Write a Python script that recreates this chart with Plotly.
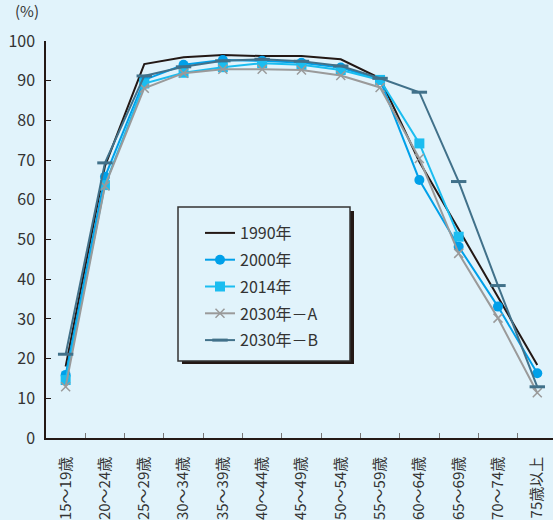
import plotly.graph_objects as go

# Age groups (x-axis categories)
ages = ["15～19歳", "20～24歳", "25～29歳", "30～34歳", "35～39歳", "40～44歳",
        "45～49歳", "50～54歳", "55～59歳", "60～64歳", "65～69歳", "70～74歳", "75歳以上"]

# Labour force participation rate (%) by age group
rate_1990 = [18.0, 68.5, 94.2, 95.9, 96.5, 96.2, 96.2, 95.4, 90.6, 69.6, 52.6, 35.6, 18.4]
rate_2000 = [15.9, 65.8, 90.2, 94.0, 95.2, 95.0, 94.5, 93.3, 90.2, 65.0, 48.2, 33.1, 16.3]
rate_2014 = [14.6, 63.7, 89.3, 92.0, 93.4, 94.4, 94.0, 92.7, 90.2, 74.2, 50.7, None, None]
rate_2030a = [12.9, 63.5, 88.1, 91.9, 92.9, 92.9, 92.7, 91.3, 88.3, 70.4, 46.5, 30.2, 11.4]
rate_2030b = [21.1, 69.3, 91.2, 93.5, 95.0, 95.4, 94.9, 93.7, 90.6, 87.1, 64.6, 38.4, 12.9]

y_ticks = [0, 10, 20, 30, 40, 50, 60, 70, 80, 90, 100]

FONT = "Noto Sans CJK JP"
BG = "#E1F3FB"

# plot-area geometry in pixels, used to place the legend frame
L, T, W, H = 46, 41, 507, 397


def px_x(px):
    return (px - L) / W


def px_y(py):
    return (T + H - py) / H


fig = go.Figure()

fig.add_trace(go.Scatter(
    x=ages, y=rate_1990, name="1990年", mode="lines",
    line=dict(color="#231815", width=2)))
fig.add_trace(go.Scatter(
    x=ages, y=rate_2000, name="2000年", mode="lines+markers",
    line=dict(color="#00A0E9", width=2),
    marker=dict(symbol="circle", size=10, color="#00A0E9")))
fig.add_trace(go.Scatter(
    x=ages, y=rate_2014, name="2014年", mode="lines+markers",
    line=dict(color="#1BBDF0", width=2),
    marker=dict(symbol="square", size=10, color="#1BBDF0")))
fig.add_trace(go.Scatter(
    x=ages, y=rate_2030a, name="2030年－A", mode="lines+markers",
    line=dict(color="#9A9A9A", width=2),
    marker=dict(symbol="x-thin", size=9, line=dict(color="#9A9A9A", width=1.5))))
fig.add_trace(go.Scatter(
    x=ages, y=rate_2030b, name="2030年－B", mode="lines+markers",
    line=dict(color="#41718A", width=2),
    marker=dict(symbol="line-ew", size=11, line=dict(color="#41718A", width=3))))

# legend frame: drop shadow, then the bordered box on top of it
fig.add_shape(type="rect", xref="paper", yref="paper",
              x0=px_x(182), x1=px_x(354), y0=px_y(364), y1=px_y(211),
              fillcolor="#231815", line=dict(width=0), layer="above")
fig.add_shape(type="rect", xref="paper", yref="paper",
              x0=px_x(178), x1=px_x(350), y0=px_y(361), y1=px_y(207),
              fillcolor=BG, line=dict(color="#333333", width=1.5), layer="above")

fig.add_annotation(text="(%)", xref="paper", yref="paper",
                   x=-0.01, y=1.045, xanchor="right", yanchor="bottom",
                   showarrow=False, font=dict(family=FONT, size=15, color="#333333"))

fig.update_layout(
    width=553, height=520,
    margin=dict(l=L, r=0, t=T, b=520 - T - H, autoexpand=False),
    paper_bgcolor=BG, plot_bgcolor=BG,
    font=dict(family=FONT, color="#333333"),
    showlegend=True,
    legend=dict(
        x=px_x(200), y=px_y(216), xanchor="left", yanchor="top",
        bgcolor="rgba(0,0,0,0)", borderwidth=0,
        font=dict(family=FONT, size=16, color="#333333"),
        traceorder="grouped", tracegroupgap=3,
    ),
    xaxis=dict(
        type="category", range=[-0.5, 12.4], automargin=False,
        showline=True, linecolor="#231815", linewidth=1.5,
        ticks="inside", tickson="boundaries", ticklen=5, tickcolor="#777777",
        tickangle=-90, ticklabelstandoff=11,
        tickfont=dict(family=FONT, size=15, color="#333333"),
        showgrid=False, zeroline=False,
    ),
    yaxis=dict(
        range=[0, 100], tickvals=y_ticks, automargin=False,
        showline=True, linecolor="#231815", linewidth=1.5,
        ticks="inside", ticklen=5, tickcolor="#231815",
        ticklabelstandoff=6,
        tickfont=dict(family=FONT, size=16, color="#333333"),
        showgrid=False, zeroline=False,
    ),
)

for i, tr in enumerate(fig.data):
    tr.legendgroup = f"g{i}"
    tr.cliponaxis = False

fig.write_html("out.html")
